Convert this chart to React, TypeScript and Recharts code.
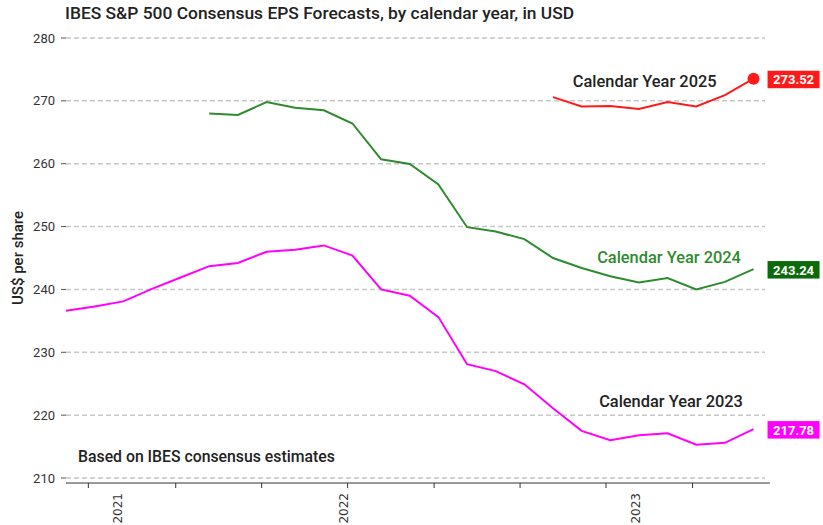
import React from 'react';
import { LineChart, Line, XAxis, YAxis, CartesianGrid, ReferenceDot, ReferenceLine, LabelList } from 'recharts';

const monthIndex = [0, 1, 2, 3, 4, 5, 6, 7, 8, 9, 10, 11, 12, 13, 14, 15, 16, 17, 18, 19, 20, 21, 22, 23, 24];
const cy2023 = [236.6, 237.3, 238.1, 240.1, 241.9, 243.7, 244.2, 246.0, 246.3, 247.0, 245.4, 240.0, 239.0, 235.6, 228.1, 227.0, 224.9, 221.1, 217.5, 216.0, 216.8, 217.1, 215.3, 215.6, 217.78];
const cy2024 = [null, null, null, null, null, 268.0, 267.75, 269.8, 268.9, 268.5, 266.4, 260.7, 259.95, 256.7, 249.9, 249.2, 248.0, 245.0, 243.4, 242.1, 241.1, 241.8, 240.0, 241.2, 243.24];
const cy2025 = [null, null, null, null, null, null, null, null, null, null, null, null, null, null, null, null, null, 270.6, 269.1, 269.2, 268.7, 269.8, 269.1, 270.9, 273.52];

const yTicks = [210, 220, 230, 240, 250, 260, 270, 280];
const tickMarks = [0.78, 3.83, 6.83, 9.83, 12.85, 15.85, 18.85, 21.87];
const yearLabels = ['2021', '2022', '2023'];
const yearLabelPos = [1.8, 9.7, 19.9];

const seriesNames = ['Calendar Year 2023', 'Calendar Year 2024', 'Calendar Year 2025'];
const annotX = [21.12, 21.05, 20.2];
const annotY = [222.25, 245.1, 273.16];
const noteText = 'Based on IBES consensus estimates';

const data = monthIndex.map((m, i) => ({ m, cy2023: cy2023[i], cy2024: cy2024[i], cy2025: cy2025[i] }));
const last = monthIndex.length - 1;

const MAGENTA = '#ff00ff';
const GREEN = '#2e8b2e';
const GREEN_BADGE = '#0b6b0b';
const RED = '#ff1a1a';

const XTick = (props: any) => {
  const { x, y, payload } = props;
  const idx = yearLabelPos.indexOf(payload.value);
  if (idx >= 0) {
    return (
      <text x={x} y={y + 15} transform={`rotate(-90 ${x} ${y + 15})`} textAnchor="end" dy="0.36em"
        fontFamily="DejaVu Sans" fontSize={12} fill="#333">{yearLabels[idx]}</text>
    );
  }
  return <line x1={x} x2={x} y1={y + 5} y2={y + 10} stroke="#333" strokeWidth={1} />;
};

const badge = (color: string) => (props: any) => {
  const { x, y, index, value } = props;
  if (index !== last || value == null) return <g />;
  return (
    <g>
      <rect x={x + 14} y={y - 8} width={52} height={17.5} fill={color} />
      <text x={x + 40} y={y + 1} dy="0.36em" textAnchor="middle" fontFamily="Roboto" fontWeight={700}
        fontSize={13} fill="#fff">{Number(value).toFixed(2)}</text>
    </g>
  );
};

const RedDot = (props: any) => {
  const { cx, cy, index } = props;
  if (index !== last) return <g key={index} />;
  return <circle key={index} cx={cx} cy={cy} r={6} fill={RED} />;
};

const annotLabel = (text: string, color: string, anchor: string) => (props: any) => {
  const vb = props.viewBox || {};
  const cx = (vb.x || 0) + (vb.width || 0) / 2;
  const cy = (vb.y || 0) + (vb.height || 0) / 2;
  return (
    <text x={cx} y={cy} dy="0.36em" textAnchor={anchor} fontFamily="Roboto" fontWeight={500}
      fontSize={anchor === 'start' ? 15.8 : 16.4} fill={color}>{text}</text>
  );
};

const YLabel = (props: any) => {
  const vb = props.viewBox || {};
  const cx = (vb.x || 0) + 18;
  const cy = (vb.y || 0) + (vb.height || 0) / 2;
  return (
    <text x={cx} y={cy} transform={`rotate(-90 ${cx} ${cy})`} textAnchor="middle" dy="0.36em"
      fontFamily="Roboto" fontWeight={500} fontSize={15} fill="#222">US$ per share</text>
  );
};

export default function App() {
  return (
    <div style={{ position: 'absolute', left: 0, top: 0, width: 823, height: 525, background: '#fff' }}>
      <div style={{ position: 'absolute', left: 65, top: 3, fontFamily: 'Roboto', fontWeight: 500, fontSize: 17.4, color: '#222', whiteSpace: 'nowrap', lineHeight: '20px' }}>
        IBES S&amp;P 500 Consensus EPS Forecasts, by calendar year, in USD
      </div>
      <LineChart width={823} height={525} data={data} margin={{ top: 38, right: 58, left: 0, bottom: 0 }}>
        <CartesianGrid vertical={false} stroke="#c8c8c8" strokeDasharray="5 3" strokeWidth={1.5} />
        <XAxis dataKey="m" type="number" domain={[0, 24.4]} ticks={[...tickMarks, ...yearLabelPos]} interval={0}
          height={47} axisLine={false} tickLine={false} tickSize={0} tickMargin={0} tick={<XTick />} allowDataOverflow />
        <YAxis type="number" domain={[210, 280]} ticks={yTicks} width={66} axisLine={false}
          tickLine={{ stroke: '#555' }} tickSize={5} tickMargin={6}
          tick={{ fill: '#333', fontSize: 13, fontFamily: 'Roboto' }} label={<YLabel />} allowDataOverflow />
        <ReferenceLine segment={[{ x: 0, y: 209.2 }, { x: 24.57, y: 209.2 }]} stroke="#333" strokeWidth={1} ifOverflow="visible" />
        <Line dataKey="cy2023" stroke={MAGENTA} strokeWidth={2} dot={false} isAnimationActive={false}>
          <LabelList dataKey="cy2023" content={badge(MAGENTA)} />
        </Line>
        <Line dataKey="cy2024" stroke={GREEN} strokeWidth={2} dot={false} isAnimationActive={false}>
          <LabelList dataKey="cy2024" content={badge(GREEN_BADGE)} />
        </Line>
        <Line dataKey="cy2025" stroke={RED} strokeWidth={2} dot={<RedDot />} isAnimationActive={false}>
          <LabelList dataKey="cy2025" content={badge(RED)} />
        </Line>
        <ReferenceDot x={annotX[0]} y={annotY[0]} r={0} fill="none" stroke="none" ifOverflow="visible" label={annotLabel(seriesNames[0], '#222', 'middle')} />
        <ReferenceDot x={annotX[1]} y={annotY[1]} r={0} fill="none" stroke="none" ifOverflow="visible" label={annotLabel(seriesNames[1], GREEN, 'middle')} />
        <ReferenceDot x={annotX[2]} y={annotY[2]} r={0} fill="none" stroke="none" ifOverflow="visible" label={annotLabel(seriesNames[2], '#222', 'middle')} />
        <ReferenceDot x={0.42} y={213.4} r={0} fill="none" stroke="none" ifOverflow="visible" label={annotLabel(noteText, '#222', 'start')} />
      </LineChart>
    </div>
  );
}
